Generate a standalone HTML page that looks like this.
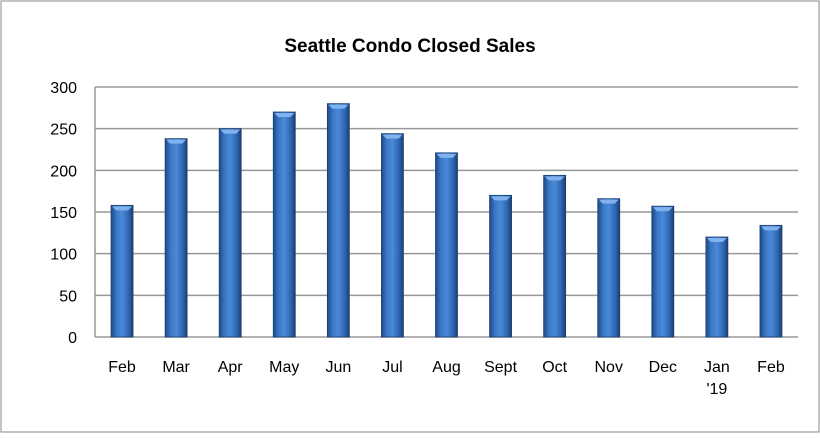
<!DOCTYPE html>
<html><head><meta charset="utf-8"><style>
body{margin:0;background:#fff;}
svg text{font-family:"Liberation Sans",sans-serif;}
</style></head><body>
<svg width="820" height="433" xmlns="http://www.w3.org/2000/svg">
<defs>
<linearGradient id="bg" x1="0" x2="1" y1="0" y2="0">
<stop offset="0" stop-color="#1f4a85"/><stop offset="0.25" stop-color="#3a78c8"/><stop offset="0.5" stop-color="#4a8ad8"/><stop offset="0.8" stop-color="#2f65b0"/><stop offset="1" stop-color="#1c3f72"/>
</linearGradient>
</defs>
<rect x="1" y="1" width="818" height="431" fill="#fff" stroke="#888"/>
<text x="410" y="52" text-anchor="middle" font-size="19" font-weight="bold" fill="#000">Seattle Condo Closed Sales</text>
<g id="grid"></g><g id="bars"></g><g id="labels"></g>
</svg>
<script>
const categories=["Feb","Mar","Apr","May","Jun","Jul","Aug","Sept","Oct","Nov","Dec","Jan\n'19","Feb"];
const values=[158,238,250,270,280,244,221,170,194,166,157,120,134];
const ticks=[0,50,100,150,200,250,300];
const L=95,R=798,T=87,B=337,yMax=300;
const y=v=>B-(v/yMax)*(B-T);
const step=(R-L)/categories.length;
const x=i=>L+step*(i+0.5);
const ns="http://www.w3.org/2000/svg";
const mk=(t,a,p)=>{const e=document.createElementNS(ns,t);for(const k in a)e.setAttribute(k,a[k]);p.appendChild(e);return e;};
const grid=document.getElementById('grid'),bars=document.getElementById('bars'),labels=document.getElementById('labels');
ticks.forEach(t=>{
 const l=mk('line',{x1:L,x2:R,y1:y(t),y2:y(t),stroke:'#999','stroke-width':1.5},grid);
 
 
 const tx=mk('text',{x:L-18,y:y(t)+6,'text-anchor':'end','font-size':16},labels);
 tx.textContent=t;
 
 
});
const ax=mk('line',{x1:L,x2:L,y1:T,y2:B,stroke:'#999','stroke-width':1.5},grid);


const bw=22;
values.forEach((v,i)=>{
 const cx=x(i),top=y(v);
 const r=mk('rect',{x:cx-bw/2,y:top,width:bw,height:B-top,fill:'url(#bg)',stroke:'#1c3f72','stroke-width':0.8},bars);
 
 
 const c=mk('polygon',{points:`${cx-bw/2+1},${top+1} ${cx+bw/2-1},${top+1} ${cx+bw/2-5},${top+5} ${cx-bw/2+5},${top+5}`,fill:'#7fb2ee'},bars);
 
 
 const parts=categories[i].split('\n');
 parts.forEach((p,j)=>{
  const tx=mk('text',{x:cx,y:372+j*22,'text-anchor':'middle','font-size':16},labels);
  tx.textContent=p;
  
  
 });
});
</script>
</body></html>
